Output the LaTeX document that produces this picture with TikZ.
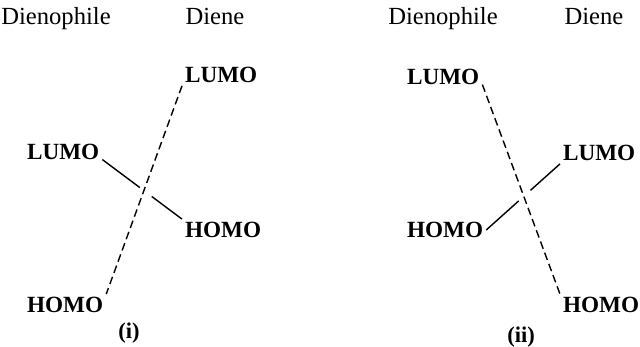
\documentclass[tikz,border=0pt]{standalone}
\usepackage{fontspec}
\setmainfont{Liberation Serif}
\usetikzlibrary{calc,positioning}
\tikzset{
  mo/head/.style={font=\fontsize{17.5}{20}\selectfont, inner sep=0pt, anchor=base},
  mo/level/.style={font=\fontsize{16.5}{19}\selectfont\bfseries, inner sep=2pt, anchor=west},
  mo/tag/.style={font=\fontsize{16}{18}\selectfont\bfseries, inner sep=0pt},
  mo/strong/.style={line width=1pt},
  mo/weak/.style={line width=1pt, dash pattern=on 5.5pt off 3pt}
}

\begin{document}
\begin{tikzpicture}[x=0.025cm, y=-0.025cm]
  \useasboundingbox (0,0) rectangle (640,347);

  % (i)
  \node[mo/head] (hphile1) at (56,25) {Dienophile};
  \node[mo/head] (hdiene1) at (215,25) {Diene};
  \node[mo/level] (dlumo1) at (182,75) {LUMO};
  \node[mo/level] (plumo1) at (24,152) {LUMO};
  \node[mo/level] (dhomo1) at (182,230) {HOMO};
  \node[mo/level] (phomo1) at (24,305) {HOMO};
  \node[mo/tag] (tag1) at (129,333) {(i)};

  \draw[mo/weak] (dlumo1.south west) -- (phomo1.north east);
  \draw[mo/strong] (plumo1.base east) -- ($(plumo1.base east)!0.47!(dhomo1.north west)$)
    ($(plumo1.base east)!0.62!(dhomo1.north west)$) -- (dhomo1.north west);

  % (ii)
  \node[mo/head] (hphile2) at (443,25) {Dienophile};
  \node[mo/head] (hdiene2) at (594,25) {Diene};
  \node[mo/level] (plumo2) at (404,77) {LUMO};
  \node[mo/level] (dlumo2) at (560,153) {LUMO};
  \node[mo/level] (phomo2) at (404,230) {HOMO};
  \node[mo/level] (dhomo2) at (560,305) {HOMO};
  \node[mo/tag] (tag2) at (521,337) {(ii)};

  \draw[mo/weak] (plumo2.base east) -- (dhomo2.north west);
  \draw[mo/strong] (phomo2.east) -- ($(phomo2.east)!0.44!(dlumo2.south west)$)
    ($(phomo2.east)!0.6!(dlumo2.south west)$) -- (dlumo2.south west);
\end{tikzpicture}
\end{document}
